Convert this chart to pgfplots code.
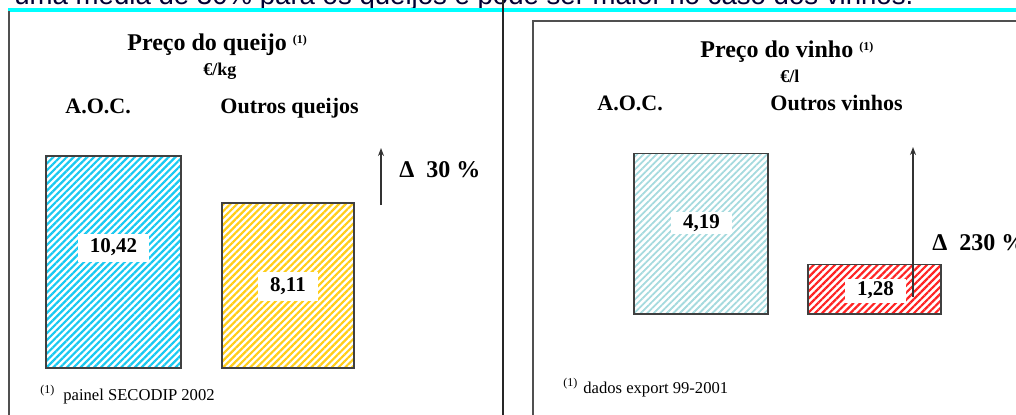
\documentclass[border=0pt]{standalone}
\usepackage{pgfplots}
\pgfplotsset{compat=1.18}
\usetikzlibrary{patterns.meta,arrows.meta}
\usepackage{fontspec}
\setmainfont{Liberation Serif}
\newfontfamily\arial{Liberation Sans}

\definecolor{hatchcyan}{RGB}{25,200,240}
\definecolor{hatchgold}{RGB}{255,205,25}
\definecolor{hatchteal}{RGB}{165,218,222}
\definecolor{hatchred}{RGB}{255,35,35}
\definecolor{framegray}{RGB}{80,80,80}
\definecolor{rulecyan}{RGB}{0,255,255}

\tikzset{
  vlab/.style={fill=white, inner xsep=6pt, text height=7pt, text depth=2pt,
    font=\bfseries\fontsize{10.5}{12}\selectfont},
  bartext/.style={anchor=base west, inner sep=0pt, font=\bfseries\fontsize{11}{13}\selectfont},
}
\newcommand{\one}{\raisebox{3.5pt}{\fontsize{6}{7}\selectfont(1)}}

\begin{document}
\begin{tikzpicture}
\useasboundingbox (0pt,0pt) rectangle (508pt,-207pt);
\clip (0pt,0pt) rectangle (508pt,-207pt);

% left: cheese price, EUR/kg
\begin{axis}[at={(0pt,-184pt)}, anchor=south west, scale only axis,
  width=250pt, height=122.1pt, xmin=0, xmax=500, ymin=0, ymax=12,
  hide axis, clip=false]
\addplot[ybar, bar shift=0pt, bar width=67.5pt, draw=black!75, line width=0.6pt,
  pattern={Lines[angle=45,distance=2.4pt,line width=1.1pt]}, pattern color=hatchcyan]
  coordinates {(113.5,10.42)};
\addplot[ybar, bar shift=0pt, bar width=66pt, draw=black!75, line width=0.6pt,
  pattern={Lines[angle=45,distance=2.4pt,line width=1.1pt]}, pattern color=hatchgold]
  coordinates {(288,8.11)};
\node[vlab, inner ysep=2.7pt] at (axis cs:113.5,5.9) {10,42};
\node[vlab, inner ysep=2.7pt] at (axis cs:288,4.0) {8,11};
\end{axis}

% right: wine price, EUR/l
\begin{axis}[at={(0pt,-157pt)}, anchor=south west, scale only axis,
  width=508pt, height=96pt, xmin=0, xmax=1016, ymin=0, ymax=5,
  hide axis, clip=false]
\addplot[ybar, bar shift=0pt, bar width=67pt, draw=black!75, line width=0.6pt,
  pattern={Lines[angle=45,distance=2.3pt,line width=0.9pt]}, pattern color=hatchteal]
  coordinates {(701,4.19)};
\addplot[ybar, bar shift=0pt, bar width=66.5pt, draw=black!75, line width=0.6pt,
  pattern={Lines[angle=45,distance=2.5pt,line width=1.1pt]}, pattern color=hatchred]
  coordinates {(874.5,1.28)};
\node[vlab, inner ysep=1pt] at (axis cs:701.5,2.37) {4,19};
\node[vlab, inner ysep=1.5pt] at (axis cs:875.5,0.6) {1,28};
\end{axis}

\begin{scope}[x=0.5pt,y=-0.5pt]
% running text cut at the top, and the rule under it
\node[anchor=base west, inner sep=0pt, text=black!80!blue,
  font=\arial\fontsize{13.8}{15}\selectfont] at (14,4)
  {uma média de 30\% para os queijos e pode ser maior no caso dos vinhos.};
\draw[rulecyan, line width=1.6pt] (8,10) -- (1016,10);
% frames
\draw[framegray, line width=0.8pt] (9,11) -- (9,420);
\draw[black!85, line width=0.8pt] (503,0) -- (503,420);
\draw[framegray, line width=0.8pt] (1030,21) -- (533,21) -- (533,420);

% left panel texts
\node[anchor=base west, inner sep=0pt, font=\bfseries\fontsize{12}{14}\selectfont]
  at (127,50) {Preço do queijo \one};
\node[anchor=base west, inner sep=0pt, font=\bfseries\fontsize{9}{11}\selectfont]
  at (203,75) {€/kg};
\node[bartext] at (65,113) {A.O.C.};
\node[bartext] at (220,113) {Outros queijos};
\draw[black!80, line width=0.7pt, -{Stealth[length=4pt,width=3pt]}] (381,205) -- (381,148);
\node[anchor=base west, inner sep=0pt, font=\bfseries\fontsize{12}{14}\selectfont]
  at (399,177) {Δ\ \ 30 \%};
\node[anchor=base west, inner sep=0pt, font=\fontsize{6}{7}\selectfont] at (40,393) {(1)};
\node[anchor=base west, inner sep=0pt, font=\fontsize{8.3}{10}\selectfont]
  at (63,400) {painel SECODIP 2002};

% right panel texts
\node[anchor=base west, inner sep=0pt, font=\bfseries\fontsize{12}{14}\selectfont]
  at (700,57) {Preço do vinho \one};
\node[anchor=base west, inner sep=0pt, font=\bfseries\fontsize{9}{11}\selectfont]
  at (780,82) {€/l};
\node[bartext] at (597,110) {A.O.C.};
\node[bartext] at (770,110) {Outros vinhos};
\draw[black!80, line width=0.7pt, -{Stealth[length=4pt,width=3pt]}] (913,297) -- (913,147);
\node[anchor=base west, inner sep=0pt, font=\bfseries\fontsize{12}{14}\selectfont]
  at (932,250) {Δ\ \ 230 \%};
\node[anchor=base west, inner sep=0pt, font=\fontsize{6}{7}\selectfont] at (563,386) {(1)};
\node[anchor=base west, inner sep=0pt, font=\fontsize{8.3}{10}\selectfont]
  at (583,393) {dados export 99-2001};
\end{scope}
\end{tikzpicture}
\end{document}
